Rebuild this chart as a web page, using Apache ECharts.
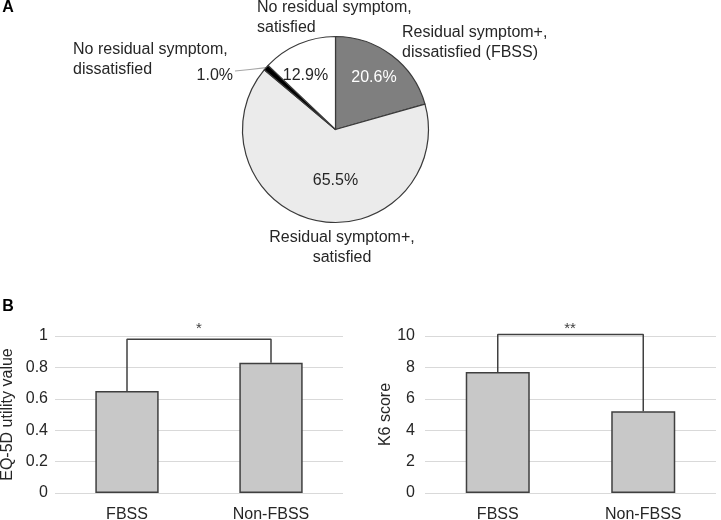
<!DOCTYPE html>
<html>
<head>
<meta charset="utf-8">
<script src="https://cdn.jsdelivr.net/npm/echarts@6/dist/echarts.min.js"></script>
<style>
  html, body { margin: 0; padding: 0; background: #ffffff; }
  #chart { width: 721px; height: 520px; }
</style>
</head>
<body>
<div id="chart"></div>
<script>
// ---- data ----
const pieNames = [
  'Residual symptom+,\ndissatisfied (FBSS)',
  'Residual symptom+,\nsatisfied',
  'No residual symptom,\ndissatisfied',
  'No residual symptom,\nsatisfied'
];
const pieValues = [20.6, 65.5, 1.0, 12.9];

const barCategories = ['FBSS', 'Non-FBSS'];
const eqValues = [0.65, 0.83];
const k6Values = [7.7, 5.2];
const eqBracketTop = 0.98;
const k6BracketTop = 10.1;
const significance = ['*', '**'];
const eqAxis = { min: 0, max: 1, interval: 0.2, name: 'EQ-5D utility value' };
const k6Axis = { min: 0, max: 10, interval: 2, name: 'K6 score' };

// ---- styles / layout ----
const FONT = "'Liberation Sans', Arial, sans-serif";
const TEXT = '#262626';
const sliceColors = ['#7f7f7f', '#ebebeb', '#000000', '#ffffff'];
const pctColors = ['#ffffff', TEXT, TEXT, TEXT];
const pieCenter = [335.5, 129.5];
const pieRadius = 93;

// label placement (x, y, align) for percentages and names
const pctPlace = [
  { x: 374, y: 78, align: 'center' },
  { x: 335.5, y: 181, align: 'center' },
  { x: 233, y: 76, align: 'right' },
  { x: 305.5, y: 76, align: 'center' }
];
const namePlace = [
  { x: 402, y: 23, align: 'left' },
  { x: 342, y: 228, align: 'center' },
  { x: 73, y: 40, align: 'left' },
  { x: 257, y: -2, align: 'left' }
];

const chart = echarts.init(document.getElementById('chart'), null, { renderer: 'canvas' });

function bracket(values, top) {
  return [[0, values[0]], [0, top], [1, top], [1, values[1]]];
}

function yAxisCfg(ax, gridIndex, margin, nameGap) {
  return {
    type: 'value', gridIndex: gridIndex,
    min: ax.min, max: ax.max, interval: ax.interval,
    name: ax.name, nameLocation: 'middle', nameGap: nameGap,
    nameTextStyle: { fontFamily: FONT, fontSize: 16, color: TEXT },
    axisLine: { show: false }, axisTick: { show: false },
    axisLabel: { fontFamily: FONT, fontSize: 16, color: TEXT, margin: margin },
    splitLine: { show: true, lineStyle: { color: '#d9d9d9', width: 1 } }
  };
}
function xAxisCfg(gridIndex) {
  return {
    type: 'category', gridIndex: gridIndex, data: barCategories,
    axisLine: { show: false }, axisTick: { show: false },
    axisLabel: { fontFamily: FONT, fontSize: 16, color: TEXT, margin: 14 }
  };
}
const barStyle = { color: '#c8c8c8', borderColor: '#3f3f3f', borderWidth: 1.5 };
const bracketStyle = { color: '#404040', width: 1.5 };

const option = {
  backgroundColor: '#ffffff',
  animation: false,
  textStyle: { fontFamily: FONT },
  grid: [
    { left: 55, top: 336, width: 288, height: 157, outerBoundsMode: 'none', containLabel: false },
    { left: 425, top: 336, width: 291, height: 157, outerBoundsMode: 'none', containLabel: false }
  ],
  xAxis: [xAxisCfg(0), xAxisCfg(1)],
  yAxis: [yAxisCfg(eqAxis, 0, 7, 39), yAxisCfg(k6Axis, 1, 10, 31)],
  graphic: [
    { type: 'text', x: 8, y: 8, style: { text: 'A', font: "bold 16px " + FONT, fill: '#000', align: 'center', verticalAlign: 'middle' } },
    { type: 'text', x: 8, y: 307, style: { text: 'B', font: "bold 16px " + FONT, fill: '#000', align: 'center', verticalAlign: 'middle' } },
    { type: 'text', x: 199, y: 321, style: { text: significance[0], font: "15px " + FONT, fill: '#404040', align: 'center', verticalAlign: 'top' } },
    { type: 'text', x: 570, y: 321, style: { text: significance[1], font: "15px " + FONT, fill: '#404040', align: 'center', verticalAlign: 'top' } }
  ],
  series: [
    {
      type: 'pie',
      center: pieCenter, radius: pieRadius,
      startAngle: 90, clockwise: true,
      avoidLabelOverlap: false,
      silent: true,
      itemStyle: { borderColor: '#3a3a3a', borderWidth: 1.2 },
      label: {
        show: true, position: 'inside', fontFamily: FONT, fontSize: 16,
        formatter: p => p.value.toFixed(1) + '%'
      },
      labelLine: { show: false },
      data: pieValues.map((v, i) => {
        const d = {
          value: v,
          name: pieNames[i],
          itemStyle: { color: sliceColors[i] },
          label: { color: pctColors[i] }
        };
        if (i === 2) {
          d.label.position = 'outside';
          d.labelLine = { show: true, length: 3, length2: 25, lineStyle: { color: '#a6a6a6', width: 1.2 } };
        }
        return d;
      }),
      labelLayout: function (p) {
        const pl = pctPlace[p.dataIndex];
        const r = { x: pl.x, y: pl.y, align: pl.align, verticalAlign: 'middle' };
        if (p.dataIndex === 2 && p.labelLinePoints) {
          const s = p.labelLinePoints[0];
          r.labelLinePoints = [[s[0], s[1]], [250, 69.5], [235, 71]];
        }
        return r;
      }
    },
    {
      type: 'pie',
      center: pieCenter, radius: pieRadius,
      startAngle: 90, clockwise: true,
      avoidLabelOverlap: false,
      silent: true,
      itemStyle: { color: 'rgba(0,0,0,0)', borderWidth: 0 },
      label: {
        show: true, position: 'outside', fontFamily: FONT, fontSize: 16,
        lineHeight: 20, color: TEXT, formatter: p => p.name
      },
      labelLine: { show: false },
      data: pieValues.map((v, i) => ({ value: v, name: pieNames[i] })),
      labelLayout: function (p) {
        const pl = namePlace[p.dataIndex];
        return { x: pl.x, y: pl.y, align: pl.align, verticalAlign: 'top' };
      }
    },
    {
      type: 'bar', xAxisIndex: 0, yAxisIndex: 0,
      data: eqValues, barWidth: '44%', itemStyle: barStyle, silent: true
    },
    {
      type: 'bar', xAxisIndex: 1, yAxisIndex: 1,
      data: k6Values, barWidth: '44%', itemStyle: barStyle, silent: true
    },
    {
      type: 'line', xAxisIndex: 0, yAxisIndex: 0, clip: false,
      data: bracket(eqValues, eqBracketTop), symbol: 'none',
      lineStyle: bracketStyle, z: 5, silent: true
    },
    {
      type: 'line', xAxisIndex: 1, yAxisIndex: 1, clip: false,
      data: bracket(k6Values, k6BracketTop), symbol: 'none',
      lineStyle: bracketStyle, z: 5, silent: true
    }
  ]
};
chart.setOption(option);
</script>
</body>
</html>
